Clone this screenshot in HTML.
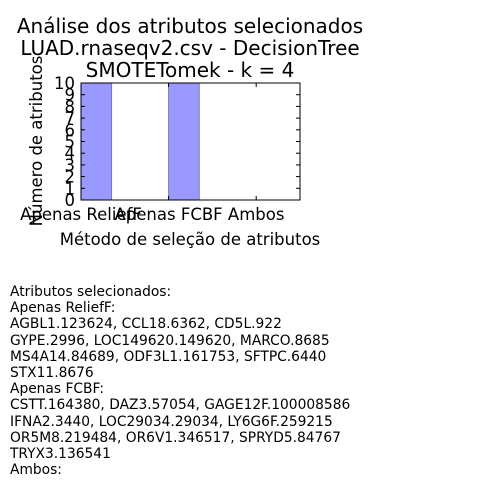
<!DOCTYPE html>
<html><head><meta charset="utf-8"><style>
body{margin:0;background:#fff;width:500px;height:500px;overflow:hidden;font-family:"Liberation Sans","DejaVu Sans",sans-serif}
svg text{font-family:"DejaVu Sans","Liberation Sans",sans-serif}
#notes{position:absolute;left:10px;top:284px;font-family:"DejaVu Sans","Liberation Sans",sans-serif;font-size:13.8px;line-height:16.2px;white-space:pre;color:#000}
</style></head><body>
<svg id="chart" width="500" height="280" style="position:absolute;left:0;top:0">
<text x="190" y="33" font-size="20" text-anchor="middle">Análise dos atributos selecionados</text>
<text x="190" y="55" font-size="20" text-anchor="middle">LUAD.rnaseqv2.csv - DecisionTree</text>
<text x="190" y="77" font-size="20" text-anchor="middle">SMOTETomek - k = 4</text>
<g id="bars"></g>
<rect x="81" y="83" width="219" height="117" fill="none" stroke="#000" stroke-width="1"/>
<g id="axes"></g>
<text x="190" y="245" font-size="16.5" text-anchor="middle">Método de seleção de atributos</text>
<text transform="translate(42,141) rotate(-90)" font-size="16.5" text-anchor="middle">Número de atributos</text>
</svg>
<div id="notes">Atributos selecionados:
Apenas ReliefF:
AGBL1.123624, CCL18.6362, CD5L.922
GYPE.2996, LOC149620.149620, MARCO.8685
MS4A14.84689, ODF3L1.161753, SFTPC.6440
STX11.8676
Apenas FCBF:
CSTT.164380, DAZ3.57054, GAGE12F.100008586
IFNA2.3440, LOC29034.29034, LY6G6F.259215
OR5M8.219484, OR6V1.346517, SPRYD5.84767
TRYX3.136541
Ambos:</div>
<script>
const categories=["Apenas ReliefF","Apenas FCBF","Ambos"];
const values=[10,10,0];
const yTicks=[0,1,2,3,4,5,6,7,8,9,10];
const NS="http://www.w3.org/2000/svg";
const x0=81,x1=300,y0=200,y1=83;
const xs=v=>x0+(v/2.5)*(x1-x0);
const ys=v=>y0-(v/10)*(y0-y1);
const bars=document.getElementById('bars'),axes=document.getElementById('axes');
function mk(t,a){const e=document.createElementNS(NS,t);for(const k in a)e.setAttribute(k,a[k]);return e;}
values.forEach((v,i)=>{
 const r=mk('rect',{x:xs(i),y:ys(v),width:xs(i+0.35)-xs(i),height:ys(0)-ys(v),fill:'#9999ff',stroke:'#6666bb','stroke-width':0.8});
 
 
 bars.appendChild(r);
 const t=mk('text',{x:xs(i),y:220,'font-size':16.5,'text-anchor':'middle'});
 t.textContent=categories[i];
 
 
 axes.appendChild(t);
 axes.appendChild(mk('line',{x1:xs(i),x2:xs(i),y1:y0,y2:y0-4,stroke:'#000'}));
 axes.appendChild(mk('line',{x1:xs(i),x2:xs(i),y1:y1,y2:y1+4,stroke:'#000'}));
});
yTicks.forEach(v=>{
 const y=ys(v);
 axes.appendChild(mk('line',{x1:x0,x2:x0+4,y1:y,y2:y,stroke:'#000'}));
 axes.appendChild(mk('line',{x1:x1,x2:x1-4,y1:y,y2:y,stroke:'#000'}));
 const t=mk('text',{x:75,y:y+6,'font-size':16.5,'text-anchor':'end'});
 t.textContent=v;
 
 
 axes.appendChild(t);
});
</script>
</body></html>
